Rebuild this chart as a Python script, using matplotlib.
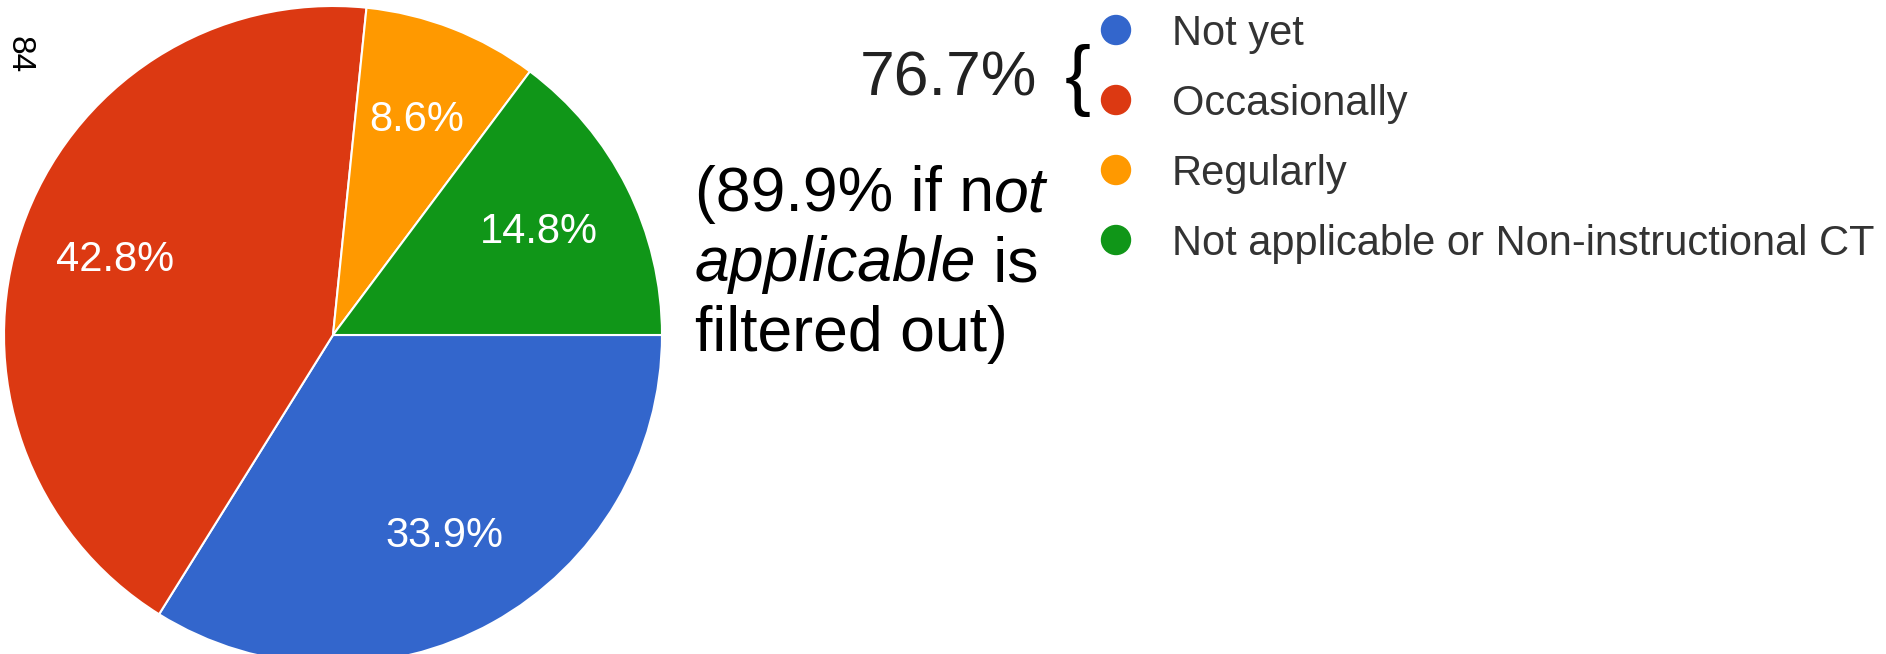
import matplotlib
matplotlib.use("Agg")
import matplotlib.pyplot as plt
from matplotlib.patches import Circle

plt.rcParams['font.family'] = ['Liberation Sans', 'DejaVu Sans']

# survey answers, in the order they go round the pie
categories = ["Not yet", "Occasionally", "Regularly", "Not applicable or Non-instructional CT"]
shares = [33.9, 42.8, 8.6, 14.8]
colors = ["#3366cc", "#dc3912", "#ff9900", "#109618"]

W, H = 1886, 654


def draw_chart(out_file="out.png"):
    fig = plt.figure(figsize=(W / 100, H / 100), dpi=100)

    # pie: centre (333, 335) px, radius 329 px (bottom runs off the page)
    cx, cy, r = 333, 335, 329
    pie_ax = fig.add_axes([(cx - r) / W, (H - cy - r) / H, 2 * r / W, 2 * r / H])
    wedges, _, pct_texts = pie_ax.pie(
        shares, colors=colors, startangle=0, counterclock=False,
        autopct='%.1f%%', pctdistance=0.70,
        wedgeprops=dict(edgecolor="white", linewidth=1.5),
        textprops=dict(color="white", fontsize=30))
    pie_ax.set_xlim(-1, 1)
    pie_ax.set_ylim(-1, 1)
    pie_ax.set_aspect("equal")

    # everything else is placed in pixel coordinates
    ax = fig.add_axes([0, 0, 1, 1])
    ax.set_xlim(0, W)
    ax.set_ylim(H, 0)
    ax.axis("off")

    # legend
    for i, (label, col) in enumerate(zip(categories, colors)):
        y = 30 + 70 * i
        ax.add_patch(Circle((1116, y), 14.5, color=col))
        ax.text(1172, y + 15, label, fontsize=30, color="#333333", va="baseline", ha="left")

    # page number down the left edge
    ax.text(19, 55, "84", rotation=-90, ha="center", va="center", fontsize=24)

    # bracket over the first two answers
    ax.text(860, 95, "76.7%", fontsize=45, color="#222222", va="baseline", ha="left")
    ax.text(1078, 101, "{", fontsize=56, color="black", va="baseline", ha="center")

    # note beside the pie
    big = 45
    t1 = ax.text(695, 211, "(89.9% if n", fontsize=big, va="baseline", ha="left")
    ax.annotate("ot", xy=(1, 0), xycoords=t1, fontsize=big, style="italic",
                va="bottom", ha="left")
    t2 = ax.text(695, 281, "applicable", fontsize=big, style="italic", va="baseline", ha="left")
    ax.annotate(" is", xy=(1, 0), xycoords=t2, fontsize=big, va="bottom", ha="left")
    ax.text(695, 351, "filtered out)", fontsize=big, va="baseline", ha="left")

    fig.savefig(out_file, dpi=100)


if __name__ == "__main__":
    draw_chart("out.png")
